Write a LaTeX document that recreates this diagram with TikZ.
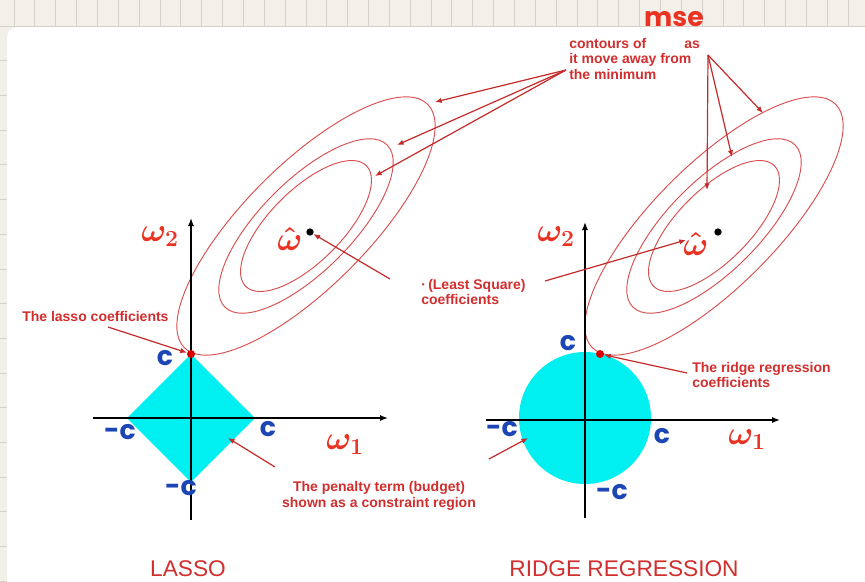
\documentclass[tikz,border=0pt]{standalone}
\usepackage{fontspec}
\setmainfont{Liberation Sans}
\newfontfamily\handfont{Poppins}
\usetikzlibrary{arrows.meta,positioning}
\definecolor{rrpaper}{HTML}{F3F0EA}
\definecolor{rrgrid}{HTML}{D6D2CA}
\definecolor{rrred}{HTML}{D22E2E}
\definecolor{rrline}{HTML}{C42A2A}
\definecolor{rrring}{HTML}{D94E4E}
\definecolor{rrmarker}{HTML}{EA3322}
\definecolor{rrblue}{HTML}{1C45B5}
\definecolor{rrcyan}{HTML}{00EFF0}
\tikzstyle{rrnote}=[text=rrred,font=\fontsize{10.5}{11.6}\selectfont\bfseries,inner sep=0pt]
\tikzstyle{rrarrow}=[-{Latex[length=5pt,width=4pt]},draw=rrline,line width=0.9pt]
\tikzstyle{rrcontour}=[draw=rrring,line width=0.7pt]
\tikzstyle{rraxis}=[-{Latex[length=6pt,width=4.5pt]},draw=black,line width=1pt]
\tikzstyle{rrhand}=[text=rrmarker,font=\fontsize{23}{23}\selectfont\boldmath,inner sep=0pt]
\tikzstyle{rrbound}=[text=rrblue,font=\handfont\fontsize{20}{20}\selectfont\bfseries,inner sep=0pt]
\tikzstyle{rrtitle}=[text=rrred,font=\fontsize{17}{19}\selectfont,inner sep=0pt]
\tikzstyle{rrdot}=[circle,inner sep=0pt,minimum size=6pt]

\begin{document}
\begin{tikzpicture}[x=0.75pt,y=-0.75pt]
    \useasboundingbox (0,0) rectangle (865,582);
    % ---- paper and card ----
    \fill[rrpaper] (0,0) rectangle (865,582);
    \foreach \i in {0,...,41} {\draw[rrgrid,line width=0.6pt] (14+20.85*\i,0) -- (14+20.85*\i,26);}
    \draw[rrgrid,line width=0.6pt] (0,26) -- (865,26);
    \foreach \j in {1,...,16} {\draw[rrgrid,line width=0.6pt] (0,26+34.7*\j) -- (7,26+34.7*\j);}
    \fill[white,rounded corners=8pt] (7,27) rectangle (885,600);

    % ---- constraint regions ----
    \fill[rrcyan] (191,354) -- (255,418) -- (191,482) -- (127,418) -- cycle;
    \fill[rrcyan] (585,418) circle (49.5pt);

    % ---- mse contours ----
    \coordinate (c1) at (306,226);
    \coordinate (c2) at (714,226);
    \foreach \c in {c1,c2} {
      \draw[rrcontour,rotate around={45:(\c)}] (\c) ellipse (129pt and 46pt);
      \draw[rrcontour,rotate around={45:(\c)}] (\c) ellipse (86pt and 34pt);
      \draw[rrcontour,rotate around={45:(\c)}] (\c) ellipse (64pt and 27pt);
    }

    % ---- axes ----
    \coordinate (l-bot) at (191,520); \coordinate (l-top) at (191,218);
    \coordinate (l-lft) at (93,418);  \coordinate (l-rgt) at (388,418);
    \coordinate (r-bot) at (585,518); \coordinate (r-top) at (585,222);
    \coordinate (r-lft) at (486,420); \coordinate (r-rgt) at (780,420);
    \draw[rraxis] (l-bot) -- (l-top);
    \draw[rraxis] (l-lft) -- (l-rgt);
    \draw[rraxis] (r-bot) -- (r-top);
    \draw[rraxis] (r-lft) -- (r-rgt);

    % ---- points ----
    \node[rrdot,fill=black,minimum size=5.5pt] (ls1) at (310,232) {};
    \node[rrdot,fill=black,minimum size=5.5pt] (ls2) at (718,232) {};
    \node[rrdot,fill=red!85!black] (lasso) at (191,354) {};
    \node[rrdot,fill=red!85!black] (ridge) at (600,354) {};

    % ---- annotations ----
    \node[rrnote,anchor=north west,align=left] (cont) at (569,38)
      {contours of \phantom{MSE} as\\it move away from\\the minimum};
    \coordinate (cont-l) at (566,70);
    \coordinate (cont-r) at (708,55);
    \coordinate (tl1) at (435,102); \coordinate (tl2) at (397,145); \coordinate (tl3) at (375,176);
    \coordinate (tr1) at (763,113); \coordinate (tr2) at (732,157); \coordinate (tr3) at (707,190);
    \foreach \t in {tl1,tl2,tl3} {\draw[rrarrow] (cont-l) -- (\t);}
    \foreach \t in {tr1,tr2,tr3} {\draw[rrarrow] (cont-r) -- (\t);}

    \node[rrnote,anchor=north west,align=left] (lsq) at (421,279)
      {\textperiodcentered\,(Least Square)\\coefficients};
    \coordinate (lsq-l) at (390,279);
    \coordinate (lsq-r) at (545,281);
    \coordinate (hat2) at (686,240);
    \draw[rrarrow] (lsq-l) -- (ls1);
    \draw[rrarrow] (lsq-r) -- (hat2);

    \node[rrnote,anchor=west] (lassotxt) at (22,316) {The lasso coefficients};
    \coordinate (lassotxt-s) at (108,327);
    \draw[rrarrow] (lassotxt-s) -- (lasso);

    \node[rrnote,anchor=north west,align=left] (ridgetxt) at (692,362)
      {The ridge regression\\coefficients};
    \coordinate (ridgetxt-w) at (687,373);
    \draw[rrarrow] (ridgetxt-w) -- (ridge);

    \node[rrnote,align=center] (pen) at (379,496)
      {The penalty term (budget)\\shown as a constraint region};
    \coordinate (pen-l) at (275,467); \coordinate (dia-in) at (228,438);
    \coordinate (pen-r) at (489,459); \coordinate (cir-in) at (528,438);
    \draw[rrarrow] (pen-l) -- (dia-in);
    \draw[rrarrow] (pen-r) -- (cir-in);

    % ---- titles ----
    \node[rrtitle] (t-lasso) at (188,569) {LASSO};
    \node[rrtitle] (t-ridge) at (624,569) {RIDGE REGRESSION};

    % ---- handwriting ----
    \node[rrhand,font=\handfont\fontsize{20}{20}\selectfont\bfseries] (mse) at (674,19) {mse};
    \node[rrhand] (w2l) at (160,237) {$\omega_2$};
    \node[rrhand,font=\fontsize{27}{27}\selectfont\boldmath] (whl) at (290,239) {$\hat{\omega}$};
    \node[rrhand] (w1l) at (345,445) {$\omega_1$};
    \node[rrhand] (w2r) at (556,237) {$\omega_2$};
    \node[rrhand,font=\fontsize{27}{27}\selectfont\boldmath] (whr) at (696,244) {$\hat{\omega}$};
    \node[rrhand] (w1r) at (747,440) {$\omega_1$};
    \node[rrbound] (cl1) at (165,358) {c};
    \node[rrbound] (cl2) at (268,429) {c};
    \node[rrbound] (cl3) at (120,432) {-c};
    \node[rrbound] (cl4) at (181,488) {-c};
    \node[rrbound] (cr1) at (568,343) {c};
    \node[rrbound] (cr2) at (662,436) {c};
    \node[rrbound] (cr3) at (502,429) {-c};
    \node[rrbound] (cr4) at (612,492) {-c};
\end{tikzpicture}
\end{document}
